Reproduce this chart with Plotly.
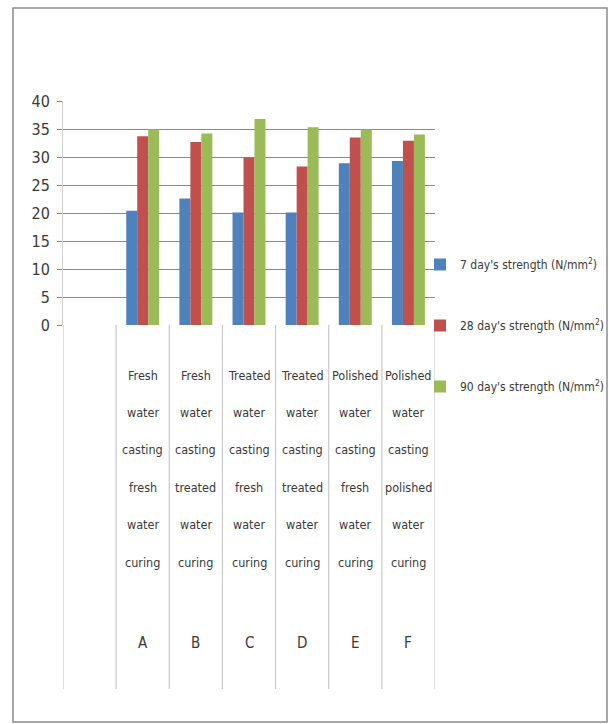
import plotly.graph_objects as go

# Mixes: leading blank slot, then six casting/curing combinations
codes = ["", "A", "B", "C", "D", "E", "F"]
descriptions = [
    [],
    ["Fresh", "water", "casting", "fresh", "water", "curing"],
    ["Fresh", "water", "casting", "treated", "water", "curing"],
    ["Treated", "water", "casting", "fresh", "water", "curing"],
    ["Treated", "water", "casting", "treated", "water", "curing"],
    ["Polished", "water", "casting", "fresh", "water", "curing"],
    ["Polished", "water", "casting", "polished", "water", "curing"],
]

# Compressive strength (N/mm²)
strength_7 = [None, 20.4, 22.6, 20.1, 20.1, 28.9, 29.3]
strength_28 = [None, 33.7, 32.7, 29.9, 28.3, 33.5, 32.9]
strength_90 = [None, 34.9, 34.2, 36.8, 35.3, 34.9, 34.0]

series_names = [
    "7 day's strength (N/mm<sup>2</sup>)",
    "28 day's strength (N/mm<sup>2</sup>)",
    "90 day's strength (N/mm<sup>2</sup>)",
]
series_values = [strength_7, strength_28, strength_90]
series_colors = ["#4F81BD", "#C0504D", "#9BBB59"]

y_ticks = [0, 5, 10, 15, 20, 25, 30, 35, 40]

W, H = 609, 724
PLOT_L, PLOT_R, PLOT_T, PLOT_B = 63, 435, 101, 325
PW, PH = PLOT_R - PLOT_L, PLOT_B - PLOT_T

FONT = "Liberation Sans Narrow, DejaVu Sans Condensed, Arial Narrow, sans-serif"
TXT = "#3a3a3a"


def px_x(p):
    return (p - PLOT_L) / PW


def px_y(p):
    return (PLOT_B - p) / PH


positions = list(range(len(codes)))

fig = go.Figure()
for name, vals, col in zip(series_names, series_values, series_colors):
    fig.add_trace(go.Bar(
        x=positions, y=vals, name=name, legendgroup=name,
        marker=dict(color=col, line=dict(width=0)),
    ))

# Category labels below the axis, one word per row, plus the mix code
annotations = []
row_first, row_pitch, code_row = 375, 37.4, 643
for pos, words, code in zip(positions, descriptions, codes):
    for i, w in enumerate(words):
        annotations.append(dict(
            x=pos, xref="x", y=px_y(row_first + i * row_pitch), yref="paper",
            text=w, showarrow=False, xanchor="center", yanchor="middle",
            font=dict(family=FONT, size=12.5, color=TXT),
        ))
    if code:
        annotations.append(dict(
            x=pos, xref="x", y=px_y(code_row), yref="paper",
            text=code, showarrow=False, xanchor="center", yanchor="middle",
            font=dict(family=FONT, size=15, color=TXT),
        ))

# Category separators running down through the label area
shapes = []
for k in range(len(codes) + 1):
    shapes.append(dict(
        type="line", xref="x", yref="paper",
        x0=k - 0.5, x1=k - 0.5, y0=0, y1=px_y(689),
        line=dict(color="#C8C8C8", width=1.2),
    ))
# Outer chart frame
shapes.append(dict(
    type="rect", xref="paper", yref="paper",
    x0=px_x(13), x1=px_x(607), y0=px_y(722), y1=px_y(8),
    line=dict(color="#8C8C8C", width=1.5), fillcolor="rgba(0,0,0,0)",
    layer="below",
))

fig.update_layout(
    width=W, height=H,
    margin=dict(l=PLOT_L, r=W - PLOT_R, t=PLOT_T, b=H - PLOT_B, pad=0,
                autoexpand=False),
    paper_bgcolor="white", plot_bgcolor="white",
    barmode="group", bargap=0.38, bargroupgap=0,
    showlegend=True,
    legend=dict(
        x=px_x(420), xanchor="left", y=px_y(250), yanchor="top",
        font=dict(family=FONT, size=12, color=TXT),
        tracegroupgap=42, traceorder="grouped",
        itemwidth=30, bgcolor="rgba(0,0,0,0)",
    ),
    xaxis=dict(
        range=[-0.5, len(codes) - 0.5], showticklabels=False, showgrid=False,
        zeroline=False, showline=False, ticks="",
    ),
    yaxis=dict(
        range=[0, 40], tickvals=y_ticks, showgrid=True, gridcolor="#8A8A8A",
        gridwidth=1.3, zeroline=False, showline=True, linecolor="#D0D0D0",
        linewidth=1, ticks="outside", ticklen=5, tickcolor="#8A8A8A",
        tickwidth=1.3, ticklabelstandoff=4,
        tickfont=dict(family=FONT, size=16, color=TXT),
    ),
    annotations=annotations, shapes=shapes,
)

fig.write_html("out.html")
